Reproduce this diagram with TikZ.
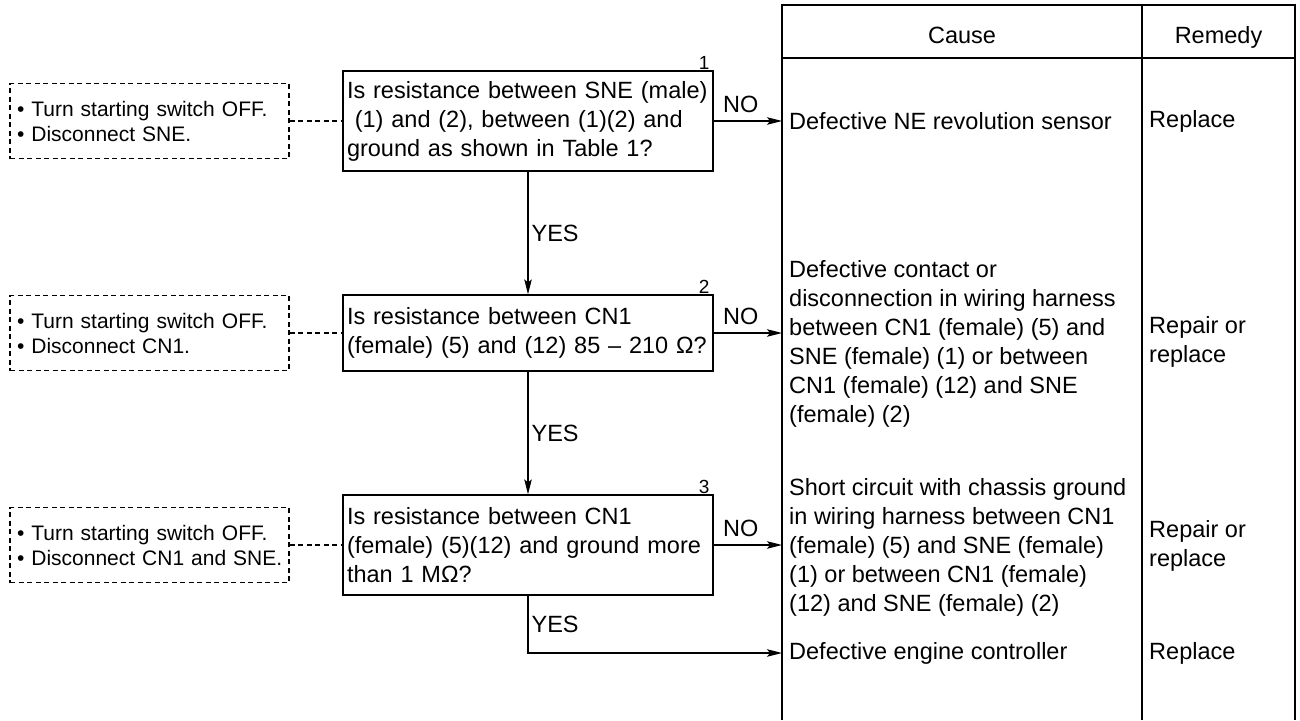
\documentclass[tikz,border=0pt]{standalone}
\usepackage{fontspec}
\setmainfont{Liberation Sans}
\usetikzlibrary{arrows.meta}
\begin{document}
\begin{tikzpicture}[x=1pt,y=-1pt,
  every node/.style={font=\fontsize{23.5}{29}\selectfont},
  ln/.style={line width=1.2pt},
  arr/.style={ln,-{Stealth[length=15pt,width=7.5pt,inset=3pt]}},
  stepbox/.style={draw,ln,minimum width=370pt,text width=362pt,align=left,inner xsep=4pt,inner ysep=0pt},
  prep/.style={draw,ln,dash pattern=on 5pt off 3.5pt,minimum width=279pt,minimum height=75pt,text width=265pt,align=left,inner xsep=7pt,font=\fontsize{21}{25}\selectfont},
  dashlink/.style={ln,dash pattern=on 5pt off 3.5pt},
  cell/.style={anchor=west,align=left,inner xsep=7pt,inner ysep=0pt},
  head/.style={anchor=base},
  num/.style={anchor=south east,inner sep=1pt,font=\fontsize{19}{19}\selectfont},
  lbl/.style={inner sep=3pt}
]
\useasboundingbox (0,0) rectangle (1300,720);

% table frame
\draw[ln] (782,720) -- (782,5) -- (1295,5) -- (1295,720);
\draw[ln] (782,58) -- (1295,58);
\draw[ln] (1142,5) -- (1142,720);
\node[head] (hcause) at (962,43) {Cause};
\node[head] (hremedy) at (1218.5,43) {Remedy};

% step boxes
\node[stepbox,minimum height=100pt] (s1) at (528,121) {Is resistance between SNE (male)\\\ (1) and (2), between (1)(2) and\\ground as shown in Table 1?};
\node[stepbox,minimum height=76pt] (s2) at (528,333) {Is resistance between CN1\\(female) (5) and (12) 85 – 210 Ω?};
\node[stepbox,minimum height=100pt] (s3) at (528,545) {Is resistance between CN1\\(female) (5)(12) and ground more\\than 1 MΩ?};

\node[num] (n1) at ([xshift=-3pt]s1.north east) {1};
\node[num] (n2) at ([xshift=-3pt]s2.north east) {2};
\node[num] (n3) at ([xshift=-3pt]s3.north east) {3};

% preparation boxes
\node[prep] (d1) at (149.5,121) {• Turn starting switch OFF.\\• Disconnect SNE.};
\node[prep] (d2) at (149.5,333) {• Turn starting switch OFF.\\• Disconnect CN1.};
\node[prep] (d3) at (149.5,545) {• Turn starting switch OFF.\\\mbox{• Disconnect CN1 and SNE.}};
\draw[dashlink] (d1.east) -- (s1.west);
\draw[dashlink] (d2.east) -- (s2.west);
\draw[dashlink] (d3.east) -- (s3.west);

% causes and remedies
\node[cell] (c1) at (782,121) {Defective NE revolution sensor};
\node[cell] (c2) at (782,344) {Defective contact or\\disconnection in wiring harness\\between CN1 (female) (5) and\\SNE (female) (1) or between\\CN1 (female) (12) and SNE\\(female) (2)};
\node[cell] (c3) at (782,547) {Short circuit with chassis ground\\in wiring harness between CN1\\(female) (5) and SNE (female)\\(1) or between CN1 (female)\\(12) and SNE (female) (2)};
\node[cell] (c4) at (782,653) {Defective engine controller};
\node[cell] (r1) at (1142,121) {Replace};
\node[cell] (r2) at (1142,342) {Repair or\\replace};
\node[cell] (r3) at (1142,546) {Repair or\\replace};
\node[cell] (r4) at (1142,653) {Replace};

% flow
\draw[arr] (s1.south) -- node[lbl,right] {YES} (s2.north);
\draw[arr] (s2.south) -- node[lbl,right] {YES} (s3.north);
\draw[arr] (s3.south) |- node[lbl,right,pos=0.25] {YES} (c4.west);
\draw[arr] (s1.east) -- node[lbl,above,xshift=-7pt,yshift=5pt] {NO} (s1.east -| c1.west);
\draw[arr] (s2.east) -- node[lbl,above,xshift=-7pt,yshift=5pt] {NO} (s2.east -| c2.west);
\draw[arr] (s3.east) -- node[lbl,above,xshift=-7pt,yshift=5pt] {NO} (s3.east -| c3.west);
\end{tikzpicture}
\end{document}
